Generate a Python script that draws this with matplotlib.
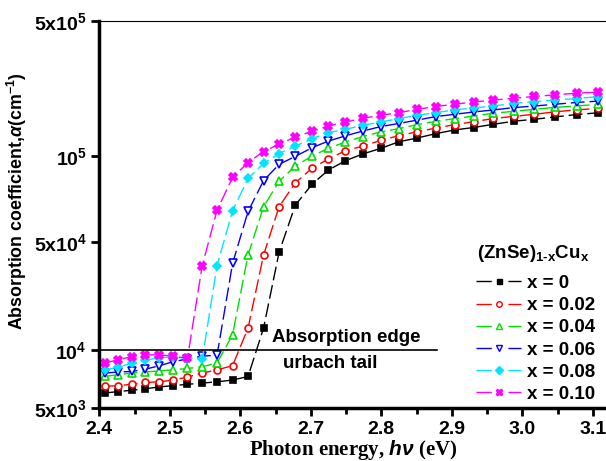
import matplotlib
matplotlib.use("Agg")
import matplotlib.pyplot as plt
from matplotlib.lines import Line2D
from matplotlib.ticker import FixedLocator, NullLocator

plt.rcParams['font.family'] = ['Liberation Sans', 'DejaVu Sans']
plt.rcParams['font.weight'] = 'bold'
plt.rcParams['axes.labelweight'] = 'bold'
plt.rcParams['mathtext.fontset'] = 'custom'
plt.rcParams['mathtext.rm'] = 'Liberation Sans:bold'
plt.rcParams['mathtext.bf'] = 'Liberation Sans:bold'
plt.rcParams['mathtext.it'] = 'Liberation Sans:italic:bold'

# photon energy (eV), shared by all samples
energy = [2.408, 2.427, 2.446, 2.465, 2.485, 2.505, 2.525, 2.546, 2.567, 2.589,
          2.611, 2.633, 2.655, 2.678, 2.702, 2.725, 2.749, 2.774, 2.799, 2.825,
          2.851, 2.877, 2.904, 2.931, 2.959, 2.988, 3.017, 3.047, 3.077, 3.108]

# absorption coefficient (cm^-1)
alpha_x000 = [6.0e3, 6.1e3, 6.2e3, 6.3e3, 6.45e3, 6.55e3, 6.65e3, 6.75e3, 6.85e3, 7.0e3,
              7.3e3, 1.3e4, 3.2e4, 5.6e4, 7.2e4, 8.5e4, 9.5e4, 1.03e5, 1.1e5, 1.19e5,
              1.245e5, 1.31e5, 1.37e5, 1.41e5, 1.465e5, 1.52e5, 1.555e5, 1.6e5, 1.645e5, 1.68e5]
alpha_x002 = [6.5e3, 6.55e3, 6.65e3, 6.8e3, 6.85e3, 7.0e3, 7.25e3, 7.6e3, 7.9e3, 8.3e3,
              1.3e4, 3.1e4, 5.5e4, 7.3e4, 8.7e4, 9.7e4, 1.07e5, 1.13e5, 1.21e5, 1.28e5,
              1.34e5, 1.40e5, 1.46e5, 1.51e5, 1.57e5, 1.61e5, 1.65e5, 1.70e5, 1.74e5, 1.77e5]
alpha_x004 = [7.3e3, 7.47e3, 7.6e3, 7.7e3, 7.8e3, 7.9e3, 8.03e3, 8.2e3, 8.57e3, 1.2e4,
              3.1e4, 5.5e4, 7.45e4, 8.9e4, 1.007e5, 1.10e5, 1.188e5, 1.267e5, 1.337e5, 1.392e5,
              1.46e5, 1.518e5, 1.567e5, 1.617e5, 1.67e5, 1.71e5, 1.75e5, 1.793e5, 1.82e5, 1.86e5]
alpha_x006 = [7.6e3, 7.7e3, 7.75e3, 7.95e3, 8.3e3, 8.7e3, 9.0e3, 9.3e3, 9.4e3, 2.8e4,
              5.2e4, 7.5e4, 9.1e4, 1.0e5, 1.11e5, 1.20e5, 1.277e5, 1.353e5, 1.425e5, 1.48e5,
              1.54e5, 1.605e5, 1.65e5, 1.696e5, 1.737e5, 1.787e5, 1.82e5, 1.86e5, 1.90e5, 1.93e5]
alpha_x008 = [7.87e3, 8.17e3, 8.53e3, 8.85e3, 9.14e3, 9.18e3, 9.07e3, 8.99e3, 2.73e4, 5.24e4,
              7.7e4, 9.2e4, 1.035e5, 1.13e5, 1.236e5, 1.327e5, 1.38e5, 1.448e5, 1.506e5, 1.567e5,
              1.63e5, 1.683e5, 1.737e5, 1.78e5, 1.82e5, 1.88e5, 1.92e5, 1.955e5, 1.99e5, 2.035e5]
alpha_x010 = [8.57e3, 8.91e3, 9.25e3, 9.44e3, 9.44e3, 9.29e3, 9.07e3, 2.73e4, 5.27e4, 7.8e4,
              9.3e4, 1.06e5, 1.156e5, 1.26e5, 1.35e5, 1.435e5, 1.505e5, 1.574e5, 1.63e5, 1.683e5,
              1.75e5, 1.81e5, 1.86e5, 1.91e5, 1.955e5, 1.995e5, 2.04e5, 2.08e5, 2.12e5, 2.15e5]

labels = ['x = 0', 'x = 0.02', 'x = 0.04', 'x = 0.06', 'x = 0.08', 'x = 0.10']
series = [alpha_x000, alpha_x002, alpha_x004, alpha_x006, alpha_x008, alpha_x010]
colors = ['black', '#ff0000', '#00e000', '#0000ff', '#00e5ff', '#ff00ff']
markers = ['s', 'o', '^', 'v', 'D', 'X']
filled = [True, False, False, False, True, True]
msizes = [4.5, 5, 5.5, 5.5, 4.5, 5.5]

# y tick positions as drawn in the original figure
ytick_vals = [5e3, 1e4, 3.6e4, 1e5, 5e5]
ytick_text = [r'$\mathbf{5x10^3}$', r'$\mathbf{10^4}$', r'$\mathbf{5x10^4}$',
              r'$\mathbf{10^5}$', r'$\mathbf{5x10^5}$']

fig = plt.figure(figsize=(6.06, 4.61), dpi=100)
ax = fig.add_axes([0.1639, 0.1143, 0.8376, 0.840])

handles = []
for y, c, m, f, ms, lab in zip(series, colors, markers, filled, msizes, labels):
    mfc = c if f else 'white'
    ax.plot(energy, y, color=c, lw=1.0, dashes=(10, 3.5), marker=m, ms=ms,
            mfc=mfc, mec=c, mew=1.2)
    handles.append(Line2D([], [], color=c, lw=1.0, dashes=(11, 12), marker=m,
                          ms=ms * 0.8, mfc=mfc, mec=c, mew=1.0, label=lab))

ax.set_yscale('log')
ax.set_xlim(2.4, 3.12)
ax.set_ylim(5e3, 5e5)

# urbach tail / absorption edge boundary
ax.plot([2.4, 2.879], [1e4, 1e4], color='black', lw=1.2)
ax.text(2.645, 1.05e4, 'Absorption edge', fontsize=13.5, ha='left', va='bottom')
ax.text(2.661, 9.4e3, 'urbach tail', fontsize=13.5, ha='left', va='top')

ax.set_xticks([2.4, 2.5, 2.6, 2.7, 2.8, 2.9, 3.0, 3.1])
ax.set_xticklabels(['2.4', '2.5', '2.6', '2.7', '2.8', '2.9', '3.0', '3.1'])
ax.xaxis.set_minor_locator(FixedLocator([2.45, 2.55, 2.65, 2.75, 2.85, 2.95, 3.05]))
ax.yaxis.set_major_locator(FixedLocator(ytick_vals))
ax.yaxis.set_minor_locator(NullLocator())
ax.set_yticklabels(ytick_text)

ax.tick_params(axis='both', which='major', direction='out', length=6, width=2,
               labelsize=14, pad=3)
ax.tick_params(axis='x', which='minor', direction='out', length=4, width=2)

ax.spines['left'].set_linewidth(2.5)
ax.spines['bottom'].set_linewidth(2.5)
ax.spines['top'].set_linewidth(0.8)
ax.spines['right'].set_visible(False)

ax.set_ylabel(r'Absorption coefficient,$\alpha$(cm$^{\mathbf{-1}}$)', fontsize=12.8)
ax.yaxis.set_label_coords(-0.138, 0.535)
ax.set_xlabel(r'Photon energy, $h\nu$ (eV)', fontsize=15, family='Liberation Serif',
              labelpad=0)

ax.text(0.744, 0.401, r'(ZnSe)$_{\mathbf{1\text{-}x}}$Cu$_{\mathbf{x}}$', fontsize=13.5,
        transform=ax.transAxes, ha='left', va='center')
leg = ax.legend(handles=handles, loc='upper left', bbox_to_anchor=(0.728, 0.364),
                frameon=False, fontsize=13.5, handlelength=2.4, handletextpad=0.3,
                labelspacing=0.27, borderaxespad=0)

fig.savefig('out.png', dpi=100)
